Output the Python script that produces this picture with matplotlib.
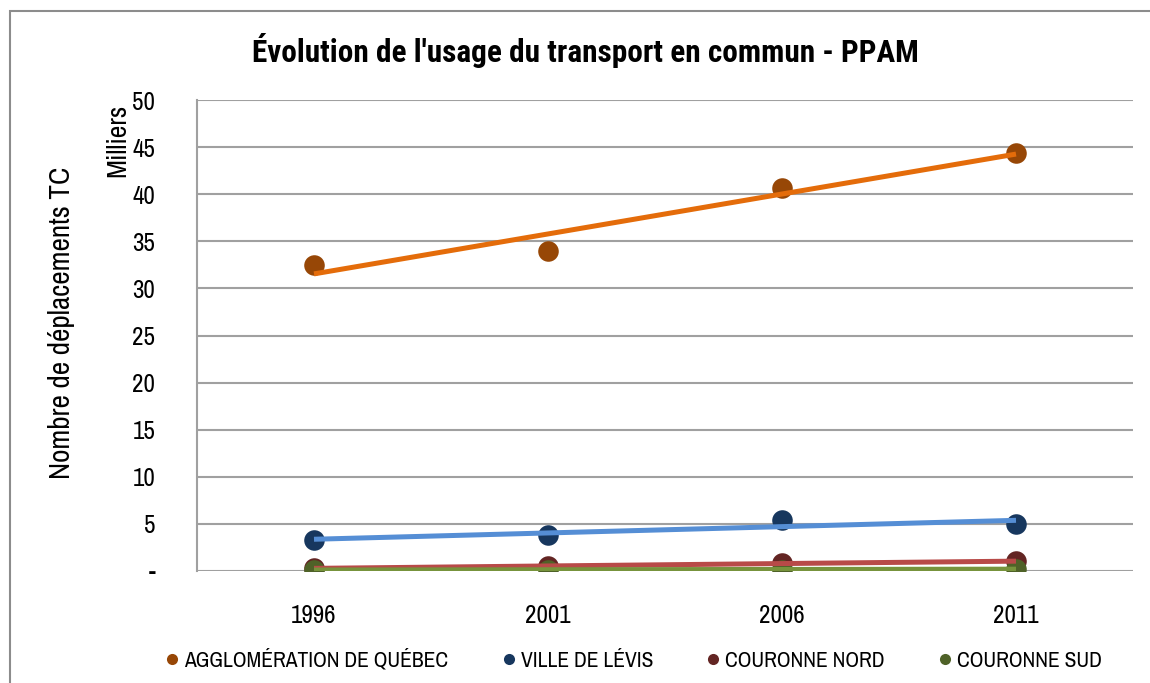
import numpy as np
import matplotlib
matplotlib.use("Agg")
import matplotlib.pyplot as plt
from matplotlib.lines import Line2D
from matplotlib.patches import Rectangle

FONT = ["Archivo Narrow", "Liberation Sans", "DejaVu Sans"]
TITLE_FONT = ["Roboto Condensed", "Liberation Sans", "DejaVu Sans"]
plt.rcParams["font.family"] = FONT

# data (milliers de déplacements TC)
years = [1996, 2001, 2006, 2011]
series_names = ["AGGLOMÉRATION DE QUÉBEC", "VILLE DE LÉVIS", "COURONNE NORD", "COURONNE SUD"]
quebec = [32.5, 34.0, 40.7, 44.4]
levis = [3.3, 3.8, 5.4, 5.0]
nord = [0.3, 0.5, 0.8, 1.05]
sud = [0.1, 0.15, 0.15, 0.2]
yticks = [0, 5, 10, 15, 20, 25, 30, 35, 40, 45, 50]
ytick_labels = ["-", "5", "10", "15", "20", "25", "30", "35", "40", "45", "50"]

marker_colors = ["#974706", "#17375E", "#632523", "#4F6228"]
trend_colors = ["#E46C0A", "#558ED5", "#B84A48", "#77933C"]

fig = plt.figure(figsize=(11.5, 6.83), dpi=100, facecolor="white")
ax = fig.add_axes([197 / 1150, 1 - 571 / 683, (1133 - 197) / 1150, (571 - 100) / 683])

x = np.array(years, dtype=float)
for vals, mc in zip([quebec, levis, nord, sud], marker_colors):
    ax.plot(x, vals, linestyle="none", marker="o", markersize=14.8,
            color=mc, markeredgewidth=0, zorder=3)
# linear trend lines, as in the original
for vals, tc in zip([quebec, levis, nord, sud], trend_colors):
    slope, icpt = np.polyfit(x, vals, 1)
    ax.plot([x[0], x[-1]], [icpt + slope * x[0], icpt + slope * x[-1]],
            color=tc, lw=3.6, solid_capstyle="butt", zorder=4)

ax.set_xlim(1993.5, 2013.5)
ax.set_ylim(0, 50)
ax.set_xticks(years)
ax.set_xticklabels([str(y) for y in years])
ax.set_yticks(yticks)
ax.set_yticklabels(ytick_labels)
ax.tick_params(axis="both", length=0, labelsize=18, colors="black")
ax.tick_params(axis="y", pad=30)
ax.tick_params(axis="x", pad=24)
ax.grid(axis="y", color="#A0A0A0", lw=1.5)
ax.set_axisbelow(True)
for side in ["top", "right", "bottom"]:
    ax.spines[side].set_visible(False)
ax.spines["left"].set_color("#A0A0A0")
ax.spines["left"].set_linewidth(1.5)

fig.text(62 / 1150, 1 - 323 / 683, "Nombre de déplacements TC", rotation=90,
         ha="center", va="center", fontsize=21)
fig.text(118 / 1150, 1 - 140 / 683, "Milliers", rotation=90,
         ha="center", va="center", fontsize=20)
fig.text(585 / 1150, 1 - 50 / 683, "Évolution de l'usage du transport en commun - PPAM",
         ha="center", va="center", fontsize=22.5, fontweight="bold", family=TITLE_FONT)

handles = [Line2D([], [], linestyle="none", marker="o", markersize=8,
                  color=c, markeredgewidth=0) for c in marker_colors]
fig.legend(handles, series_names, loc="center", bbox_to_anchor=(634 / 1150, 1 - 660 / 683),
           ncol=4, frameon=False, fontsize=15.5, handlelength=0.6, handletextpad=0.26,
           columnspacing=2.5)

# outer chart frame
fig.patches.append(Rectangle((10 / 1150, -0.1), 1.2, 1 - 11 / 683 + 0.1,
                             transform=fig.transFigure, fill=False,
                             edgecolor="#8C8C8C", lw=1.5, clip_on=False))

fig.savefig("out.png", dpi=100, facecolor="white")
